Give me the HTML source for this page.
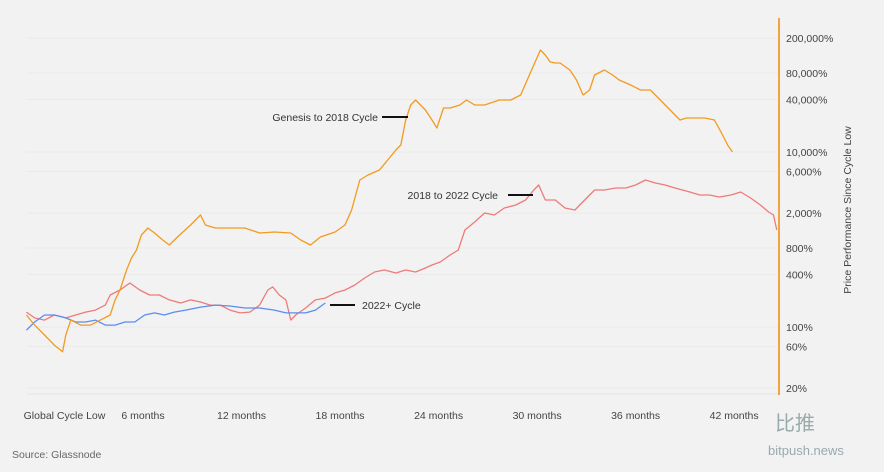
<!DOCTYPE html>
<html><head><meta charset="utf-8"><style>
body{margin:0;background:#f2f2f2;}
svg{display:block;font-family:"Liberation Sans","Noto Sans CJK SC",sans-serif;}
</style></head><body>
<svg id="chart" width="884" height="472" viewBox="0 0 884 472">
<rect width="884" height="472" fill="#f2f2f2"/>
<g id="grid"></g><g id="series"></g><g id="axes"></g>
<text x="378" y="121" font-size="10.5" fill="#333" text-anchor="end">Genesis to 2018 Cycle</text>
<line x1="382" y1="117" x2="408" y2="117" stroke="#111" stroke-width="2"/>
<text x="498" y="199" font-size="10.5" fill="#333" text-anchor="end">2018 to 2022 Cycle</text>
<line x1="508" y1="195" x2="533" y2="195" stroke="#111" stroke-width="2"/>
<text x="362" y="309" font-size="10.5" fill="#333">2022+ Cycle</text>
<line x1="330" y1="305" x2="355" y2="305" stroke="#111" stroke-width="2"/>
<text transform="translate(851,210) rotate(-90)" font-size="10.5" fill="#444" text-anchor="middle">Price Performance Since Cycle Low</text>
<text x="12" y="458" font-size="10.5" fill="#666">Source: Glassnode</text>
<text x="775" y="430" font-size="20" fill="#9aa">比推</text>
<text x="768" y="455" font-size="13" fill="#9aa">bitpush.news</text>
</svg>
<script>
const yTicks=[200000,80000,40000,10000,6000,2000,800,400,100,60,20];
const xTickMonths=[0,6,12,18,24,30,36,42];
const xTickLabels=["Global Cycle Low","6 months","12 months","18 months","24 months","30 months","36 months","42 months"];
const genesisMonths=[-1.1,-0.6,0,0.6,1.1,1.3,1.6,2.2,2.8,3.4,4,4.3,4.6,5,5.3,5.6,5.9,6.3,6.7,7.2,7.6,8.1,8.9,9.5,9.8,10.4,11.3,12.2,13.1,14,15,15.6,16.2,16.8,17.7,18.3,18.7,19.2,19.7,20.4,20.9,21.4,21.7,22,22.3,22.6,22.9,23.2,23.6,23.9,24.3,24.7,25.3,25.7,26.2,26.8,27.7,28.4,29,29.4,29.8,30.2,30.5,30.8,31.1,31.4,32,32.4,32.8,33.2,33.5,34.1,34.6,35,35.7,36.3,36.9,37.5,38.1,38.7,39.1,39.6,40.2,40.8,41.3,41.6,41.9,42.4];
const genesisValues=[137,105,81,62,52,81,120,105,105,120,137,204,265,448,615,759,1125,1353,1187,987,865,1068,1466,1905,1466,1353,1353,1353,1187,1218,1187,987,865,1068,1218,1466,2173,4786,5458,6226,8110,10540,12020,23230,34440,39280,34440,30200,23230,18800,31840,31840,34440,39280,34440,34440,39280,39280,44770,66530,98620,146600,128500,106800,104000,104000,86500,66530,44770,51150,75860,86500,75860,66530,58320,51150,51150,39280,30200,23230,24480,24480,24480,23230,15640,12020,10000];
const redMonths=[-1.1,-0.6,0,0.6,1.3,1.9,2.5,3.1,3.7,4,4.6,5.2,5.8,6.4,7,7.6,8.3,8.9,9.5,10.1,10.7,11.3,11.9,12.5,13.1,13.6,13.9,14.3,14.7,15,15.3,15.9,16.5,17.1,17.7,18.3,18.9,19.5,20.1,20.7,21.4,22,22.6,23.2,23.6,24.1,24.7,25.2,25.6,26.2,26.8,27.4,28,28.7,29.3,29.8,30.1,30.5,31.1,31.7,32.3,32.9,33.5,34.1,34.8,35.4,36,36.6,37.2,37.8,38.4,39.3,39.9,40.5,41.1,41.8,42.4,43,43.6,44.1,44.4,44.6];
const redValues=[148,127,120,137,127,137,148,156,178,232,265,318,265,232,232,204,188,204,193,178,178,156,145,148,178,265,287,232,204,120,137,165,204,214,245,265,302,363,425,448,414,448,425,472,511,553,665,759,1284,1585,2009,1905,2291,2478,2826,3680,4200,2826,2826,2291,2173,2826,3680,3680,3880,3880,4200,4786,4424,4200,3880,3491,3227,3227,3060,3227,3491,2980,2478,2061,1905,1284];
const blueMonths=[-1.1,-0.6,0,0.6,1.3,1.9,2.5,3.1,3.7,4.3,4.9,5.5,6.1,6.7,7.3,7.9,8.6,9.5,10.4,11.3,12.2,13.1,14,14.7,15.3,15.9,16.5,17.1];
const blueValues=[92,114,137,137,127,114,114,120,105,105,114,114,137,145,137,148,156,169,178,174,165,165,156,145,145,145,156,188];

const NS="http://www.w3.org/2000/svg";
const x=m=>44.5+16.42*m;
const y=v=>327-87.5*(Math.log10(v)-2);
function mk(tag,attrs,parent){const e=document.createElementNS(NS,tag);for(const k in attrs)e.setAttribute(k,attrs[k]);parent.appendChild(e);return e;}
const grid=document.getElementById('grid'),axes=document.getElementById('axes'),ser=document.getElementById('series');
yTicks.forEach(v=>{
  const g=mk('line',{x1:27,x2:779,y1:y(v),y2:y(v),stroke:'#eaeaea','stroke-width':1},grid);
  
  
  const t=mk('text',{x:786,y:y(v)+4,'font-size':10.5,fill:'#444'},axes);
  t.textContent=v.toLocaleString('en-US')+'%';
  
  
});
const base=mk('line',{x1:27,x2:779,y1:394,y2:394,stroke:'#e4e4e4'},grid);


const ax=mk('line',{x1:779,x2:779,y1:18,y2:395,stroke:'#f0a540','stroke-width':2},axes);


xTickMonths.forEach((m,i)=>{
  const t=mk('text',{x:x(m)+(i==0?20:0),y:419,'font-size':10.5,fill:'#444','text-anchor':'middle'},axes);
  t.textContent=xTickLabels[i];
  
  
});
function line(ms,vs,color,name){
  const d=ms.map((m,i)=>(i?'L':'M')+x(m).toFixed(1)+','+y(vs[i]).toFixed(1)).join('');
  const p=mk('path',{d:d,fill:'none',stroke:color,'stroke-width':1.3,'stroke-linejoin':'round'},ser);
  
  
}
line(redMonths,redValues,'#ee7b78','cycle-2018-2022-line');
line(blueMonths,blueValues,'#5b8def','cycle-2022-line');
line(genesisMonths,genesisValues,'#f29a1f','genesis-2018-line');
</script>
</body></html>
